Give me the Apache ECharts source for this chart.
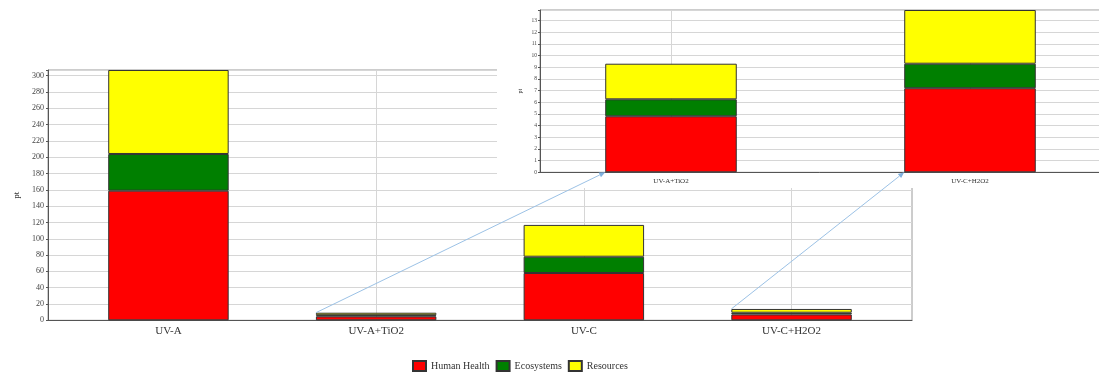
<!DOCTYPE html>
<html>
<head>
<meta charset="utf-8">
<script src="https://cdn.jsdelivr.net/npm/echarts@6/dist/echarts.min.js"></script>
<style>
  html, body { margin: 0; padding: 0; background: #fff; }
  #chart { width: 1099px; height: 373px; }
</style>
</head>
<body>
<div id="chart"></div>
<script>
// Treatments and their impact scores (pt), split by damage category
const categories = ['UV-A', 'UV-A+TiO2', 'UV-C', 'UV-C+H2O2'];
const humanHealth = [159, 4.8, 58, 7.2];
const ecosystems = [45, 1.45, 20, 2.1];
const resources = [103, 3.05, 39, 4.6];
// Treatments repeated in the enlarged panel
const zoomCategories = ['UV-A+TiO2', 'UV-C+H2O2'];
const seriesNames = ['Human Health', 'Ecosystems', 'Resources'];

const palette = ['#ff0000', '#007f00', '#ffff00'];
const FONT = '"Liberation Serif", "Times New Roman", serif';
const values = [humanHealth, ecosystems, resources];

const totals = categories.map((_, i) => values.reduce((s, arr) => s + arr[i], 0));
const zoomIdx = zoomCategories.map(c => categories.indexOf(c));
const mainMax = Math.max(...totals);
const zoomMax = Math.max(...zoomIdx.map(i => totals[i]));

const MAIN_BAR = 0.58;
const ZOOM_BAR = 0.44;

const chart = echarts.init(document.getElementById('chart'), null, { renderer: 'canvas' });

const gridLine = { show: true, lineStyle: { color: '#d6d6d6', width: 1 } };
const axisDark = { show: true, onZero: false, lineStyle: { color: '#555', width: 1 } };
const hidden = { show: false };

function barSeries(xi, yi, stack, width, z, pick) {
  return seriesNames.map((name, k) => ({
    name,
    type: 'bar',
    stack,
    xAxisIndex: xi,
    yAxisIndex: yi,
    barWidth: width,
    z,
    silent: true,
    itemStyle: { color: palette[k], borderColor: '#333', borderWidth: 1 },
    data: pick(values[k])
  }));
}

function gridBox(opts) {
  return Object.assign({ outerBoundsMode: 'none', containLabel: false }, opts);
}

chart.setOption({
  animation: false,
  backgroundColor: '#fff',
  textStyle: { fontFamily: FONT },
  grid: [
    // main frame
    gridBox({ left: 48, top: 70, width: 864, height: 250.3, show: true, backgroundColor: '#fff', borderColor: '#9a9a9a', borderWidth: 1, z: 0 }),
    // main bars
    gridBox({ left: 64.6, top: 70, width: 830.8, height: 250.3, show: false }),
    // enlarged panel frame
    gridBox({ left: 540, top: 10, width: 561, height: 162.3, show: true, backgroundColor: '#fff', borderColor: '#9a9a9a', borderWidth: 1, z: 11 }),
    // enlarged panel bars
    gridBox({ left: 521.5, top: 10, width: 598, height: 162.3, show: false, z: 11 })
  ],
  xAxis: [
    { gridIndex: 0, type: 'value', min: 0, max: 1, axisLine: axisDark, axisTick: hidden, axisLabel: hidden, splitLine: hidden },
    {
      gridIndex: 1, type: 'category', data: categories,
      axisLine: hidden, axisTick: hidden,
      axisLabel: { fontFamily: FONT, fontSize: 11, color: '#333', margin: 5, interval: 0 },
      splitLine: Object.assign({ alignWithLabel: true, interval: 0 }, gridLine)
    },
    { gridIndex: 2, type: 'value', min: 0, max: 1, z: 11, axisLine: axisDark, axisTick: hidden, axisLabel: hidden, splitLine: hidden },
    {
      gridIndex: 3, type: 'category', data: zoomCategories, z: 11,
      axisLine: hidden, axisTick: hidden,
      axisLabel: { fontFamily: FONT, fontSize: 7, color: '#333', margin: 5, interval: 0 },
      splitLine: Object.assign({ alignWithLabel: true, interval: 0 }, gridLine)
    }
  ],
  yAxis: [
    {
      gridIndex: 0, type: 'value', min: 0, max: mainMax, interval: 20,
      name: 'pt', nameLocation: 'middle', nameGap: 27, nameRotate: 90, nameMoveOverlap: false,
      nameTextStyle: { fontFamily: FONT, fontSize: 9, color: '#333' },
      axisLine: axisDark,
      axisTick: { show: true, length: 2, lineStyle: { color: '#555' } },
      axisLabel: { fontFamily: FONT, fontSize: 8, color: '#444', margin: 4,
        formatter: v => (Math.abs(v % 20) < 1e-9 ? String(v) : '') },
      splitLine: gridLine
    },
    { gridIndex: 1, type: 'value', min: 0, max: mainMax, show: false, splitLine: hidden },
    {
      gridIndex: 2, type: 'value', min: 0, max: zoomMax, interval: 1, z: 11,
      name: 'pt', nameLocation: 'middle', nameGap: 17, nameRotate: 90, nameMoveOverlap: false,
      nameTextStyle: { fontFamily: FONT, fontSize: 6, color: '#333' },
      axisLine: axisDark,
      axisTick: { show: true, length: 2, lineStyle: { color: '#555' } },
      axisLabel: { fontFamily: FONT, fontSize: 5.5, color: '#444', margin: 3,
        formatter: v => (Math.abs(v - Math.round(v)) < 1e-9 ? String(Math.round(v)) : '') },
      splitLine: gridLine
    },
    { gridIndex: 3, type: 'value', min: 0, max: zoomMax, show: false, splitLine: hidden }
  ],
  legend: {
    data: seriesNames,
    left: 407, top: 355,
    icon: 'rect', itemWidth: 13, itemHeight: 10, itemGap: 6,
    textStyle: { fontFamily: FONT, fontSize: 10, color: '#333' }
  },
  series: [
    ...barSeries(1, 1, 'main', MAIN_BAR * 100 + '%', 2, arr => arr.slice()),
    ...barSeries(3, 3, 'zoom', ZOOM_BAR * 100 + '%', 12, arr => zoomIdx.map(i => arr[i]))
  ]
});

// Connectors from each small bar to its enlarged copy
function px(grid, cat, v) { return chart.convertToPixel({ gridIndex: grid }, [cat, v]); }
const mainBand = px(1, categories[1], 0)[0] - px(1, categories[0], 0)[0];
const zoomBand = px(3, zoomCategories[1], 0)[0] - px(3, zoomCategories[0], 0)[0];

const connectors = [];
zoomIdx.forEach((ci, j) => {
  const top = px(1, categories[ci], totals[ci]);
  const start = [top[0] - mainBand * MAIN_BAR / 2, top[1]];
  const base = px(3, zoomCategories[j], 0);
  const end = [base[0] - zoomBand * ZOOM_BAR / 2, base[1]];
  const ang = Math.atan2(end[1] - start[1], end[0] - start[0]);
  const L = 6, W = 2.6;
  const bx = end[0] - L * Math.cos(ang), by = end[1] - L * Math.sin(ang);
  connectors.push({
    type: 'line', z: 20, silent: true,
    shape: { x1: start[0], y1: start[1], x2: bx, y2: by },
    style: { stroke: '#9cc2e6', lineWidth: 1 }
  });
  connectors.push({
    type: 'polygon', z: 20, silent: true,
    shape: { points: [
      end,
      [bx + W * Math.sin(ang), by - W * Math.cos(ang)],
      [bx - W * Math.sin(ang), by + W * Math.cos(ang)]
    ] },
    style: { fill: '#7fb0de' }
  });
});

chart.setOption({
  graphic: [
    // backdrop behind the enlarged panel
    { type: 'rect', z: 10, silent: true, shape: { x: 497, y: 0, width: 602, height: 188 }, style: { fill: '#fff' } },
    ...connectors
  ]
});
</script>
</body>
</html>
